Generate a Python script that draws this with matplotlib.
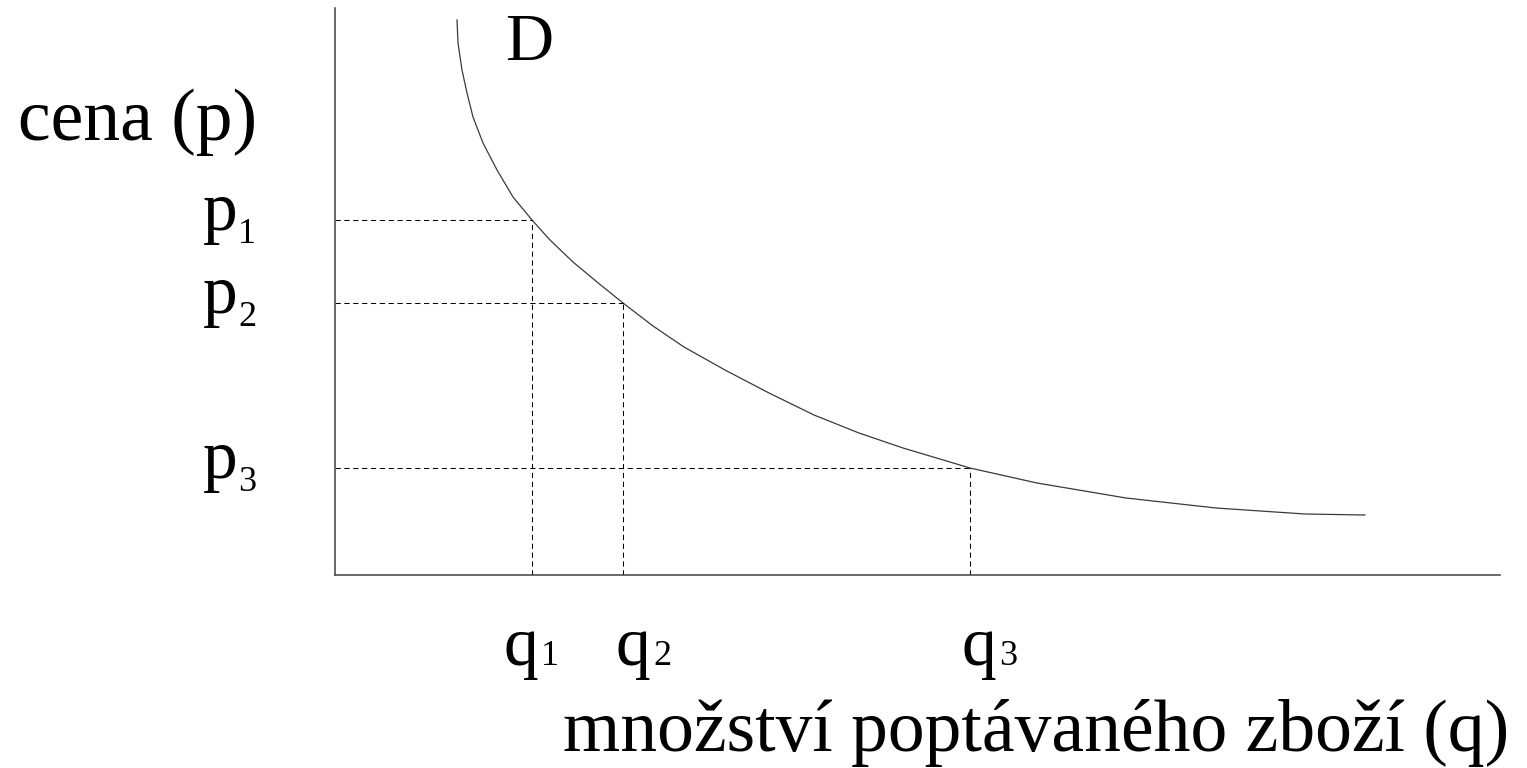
import matplotlib
matplotlib.use("Agg")
import matplotlib.pyplot as plt

plt.rcParams['font.family'] = ['Liberation Serif', 'DejaVu Serif']

# demand curve D (quantity, price)
curve_q = [122, 123, 127, 132, 138, 148, 162, 178, 197, 215, 238, 262, 288, 318, 349,
           390, 434, 479, 524, 568, 635, 702, 791, 881, 970, 1030]
curve_p = [555, 532, 505, 482, 458, 432, 405, 378, 355, 335, 313, 293, 272, 249, 228,
           205, 182, 160, 142, 127, 107, 92, 77, 67, 61, 60]

# marked points on the curve
q_points = [197, 288, 635]
p_points = [355, 272, 107]
p_labels = ["1", "2", "3"]
q_labels = ["1", "2", "3"]

fig = plt.figure(figsize=(15.27, 7.68), dpi=100)
ax = fig.add_axes([335 / 1527, 193 / 768, 1165 / 1527, 567 / 768])
ax.set_xlim(0, 1165)
ax.set_ylim(0, 567)

ax.plot(curve_q, curve_p, color="#3a3a3a", lw=0.9, solid_joinstyle="round")

# dashed guides from the axes to each point
for q, p in zip(q_points, p_points):
    ax.plot([0, q], [p, p], color="black", lw=0.75, ls=(0, (5, 3.5)))
    ax.plot([q, q], [0, p], color="black", lw=0.75, ls=(0, (5, 3.5)))

for s in ["top", "right"]:
    ax.spines[s].set_visible(False)
for s in ["left", "bottom"]:
    ax.spines[s].set_color("#404040")
    ax.spines[s].set_linewidth(1.1)
ax.set_xticks([])
ax.set_yticks([])

# price labels p1..p3 (digit as a lowered subscript)
for p, lab in zip(p_points, p_labels):
    ax.annotate("p", xy=(0, p), xycoords="data",
                xytext=(-132, -10), textcoords="offset pixels",
                ha="left", va="baseline", fontsize=50)
    ax.annotate(lab, xy=(0, p), xycoords="data",
                xytext=(-97, -23), textcoords="offset pixels",
                ha="left", va="baseline", fontsize=26)

# quantity labels q1..q3 (small digit sitting on the baseline)
label_dx = [-28, -7, -8]
for q, lab, dx in zip(q_points, q_labels, label_dx):
    ax.annotate("q", xy=(q, 0), xycoords="data",
                xytext=(dx, -90), textcoords="offset pixels",
                ha="left", va="baseline", fontsize=50)
    ax.annotate(lab, xy=(q, 0), xycoords="data",
                xytext=(dx + 37, -90), textcoords="offset pixels",
                ha="left", va="baseline", fontsize=26)

ax.text(170, 515, "D", ha="left", va="baseline", fontsize=48)

fig.text(18 / 1527, 1 - 140 / 768, "cena (p)", ha="left", va="baseline", fontsize=53)
fig.text(1036 / 1527, 1 - 751 / 768, "množství poptávaného zboží (q)",
         ha="center", va="baseline", fontsize=53)

fig.savefig("out.png", dpi=100)
